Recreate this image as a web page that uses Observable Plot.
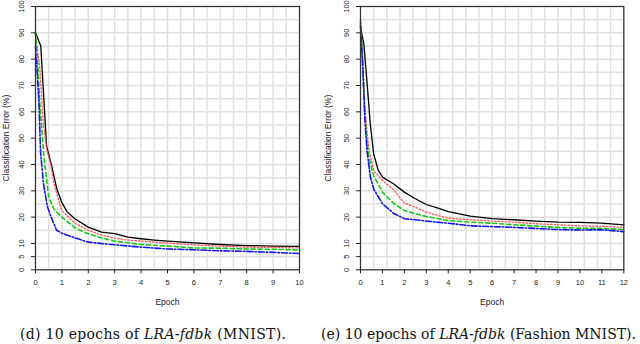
<!DOCTYPE html>
<html><head><meta charset="utf-8">
<script src="https://cdn.jsdelivr.net/npm/d3@7"></script>
<script src="https://cdn.jsdelivr.net/npm/@observablehq/plot@0.6"></script>
<style>
html,body{margin:0;padding:0;background:#fff;}
#wrap{position:relative;width:640px;height:344px;overflow:hidden;}
#left{position:absolute;left:0;top:0;}
#right{position:absolute;left:320px;top:0;}
svg{overflow:visible;}
.cap{position:absolute;top:326px;font-family:"DejaVu Serif","Liberation Serif",serif;font-size:14px;line-height:16px;color:#111;white-space:nowrap;}
</style></head>
<body><div id="wrap"><div id="left"></div><div id="right"></div>
<div class="cap" id="capL" style="left:20px;letter-spacing:0.3px;">(d) 10 epochs of <i>LRA-fdbk</i> (MNIST).</div>
<div class="cap" id="capR" style="left:321px;">(e) 10 epochs of <i>LRA-fdbk</i> (Fashion MNIST).</div>
</div>
<script>
// ---- data (epoch, classification error %) ----
const mnistBlack = [[0,90],[0.2,85],[0.42,47],[0.6,40],[0.8,31],[1.0,25.5],[1.2,22],[1.5,19.3],[2,16.2],[2.5,14.3],[3,13.7],[3.5,12.4],[4,11.8],[4.5,11.3],[5,10.9],[6,10.2],[7,9.6],[8,9.2],[9,9.0],[10,8.9]];
const mnistRed   = [[0,89],[0.16,77],[0.3,55],[0.44,45],[0.57,40.4],[0.7,32.5],[1.0,22.5],[1.5,17.6],[2,15],[2.5,13.2],[3,12],[3.5,11.3],[4,10.9],[5,10.1],[6,9.5],[7,9.0],[8,8.6],[9,8.5],[10,8.3]];
const mnistGreen = [[0,90],[0.06,83],[0.16,64],[0.32,42.8],[0.5,27.6],[0.7,23],[1.0,20],[1.5,15.9],[2,13.7],[2.5,12.1],[3,10.9],[4,9.6],[5,9.0],[6,8.3],[7,8.2],[8,7.9],[9,7.8],[10,7.5]];
const mnistBlue  = [[0,85],[0.13,64],[0.19,45],[0.3,32.8],[0.45,24],[0.57,20.6],[0.8,15],[1.0,13.9],[1.5,12.1],[2,10.5],[3,9.5],[4,8.6],[5,7.9],[6,7.6],[7,7.2],[8,7.0],[9,6.6],[10,6.2]];

const fashionBlack = [[0,92],[0.15,86],[0.3,71],[0.45,55],[0.6,44],[0.8,38],[1.0,35.2],[1.5,32.7],[2,29.5],[2.5,27],[3,24.8],[3.5,23.5],[4,22.1],[4.5,21.2],[5,20.4],[6,19.4],[7,19.0],[8,18.5],[9,18.1],[10,18.0],[11,17.7],[12,17.1]];
const fashionRed   = [[0,94],[0.1,80],[0.2,62],[0.3,52],[0.4,45],[0.6,37.7],[1.0,33.9],[1.5,30.4],[2,25.3],[2.5,23.8],[3,21.9],[4,19.6],[5,19.0],[6,18.5],[7,18.1],[8,17.5],[9,17.1],[10,16.7],[11,16.5],[12,16.1]];
const fashionGreen = [[0,95],[0.1,78],[0.2,58],[0.3,48],[0.4,42],[0.6,35.8],[1.0,29.5],[1.5,25.3],[2,22.5],[2.5,21.3],[3,20.2],[4,18.7],[5,18.1],[6,17.7],[7,17.1],[8,16.6],[9,16.1],[10,15.8],[11,15.7],[12,15.3]];
const fashionBlue  = [[0,93],[0.1,78],[0.2,57],[0.3,45],[0.45,35.2],[0.6,30.7],[1.0,25.1],[1.5,21.5],[2,19.4],[2.5,19.0],[3,18.5],[4,17.7],[5,16.7],[6,16.4],[7,16.1],[8,15.7],[9,15.3],[10,15.1],[11,15.2],[12,14.5]];

const yTickValues = [0,5,10,20,30,40,50,60,70,80,90,100];
const xTicksMnist = [0,1,2,3,4,5,6,7,8,9,10];
const xTicksFashion = [0,1,2,3,4,5,6,7,8,9,10,11,12];

// ---- styles ----
const styles = [
  {stroke:"#000000", dash:null, width:1.3},
  {stroke:"#ff5555", dash:"1.5,2", width:1.3},
  {stroke:"#11cc11", dash:"4,3", width:1.6},
  {stroke:"#1515ee", dash:"6,2,1.5,2", width:1.6}
];

function panel(series, xmax, xticks, marginLeft, marginRight, yLabelOffset){
  const gridX = d3.range(0, 21).map(i => i * xmax / 20);
  const gridY = d3.range(0, 101, 5);
  const lines = series.map((s,i) => Plot.line(s, {x: d=>d[0], y: d=>d[1], stroke: styles[i].stroke, strokeWidth: styles[i].width, strokeDasharray: styles[i].dash}));
  return Plot.plot({
    width: 320, height: 310,
    marginLeft, marginRight, marginTop: 6, marginBottom: 40.7,
    style: {fontFamily: '"Liberation Sans", Arial, sans-serif', fontSize: "7.5px", color:"#222", background:"#fff", overflow:"visible"},
    x: {domain: [0, xmax]},
    y: {domain: [0, 100]},
    marks: [
      Plot.ruleX(gridX, {stroke: "#e0e0e0", strokeWidth: 1.5}),
      Plot.ruleY(gridY, {stroke: "#e0e0e0", strokeWidth: 1.5}),
      ...lines,
      Plot.frame({stroke: "#333", strokeWidth: 1.2}),
      Plot.axisX({ticks: xticks, tickSize: 4, tickPadding: 6, label: null, tickFormat: d=>String(d)}),
      Plot.axisX({ticks: [], label: "Epoch", labelAnchor: "center", labelArrow: "none", labelOffset: 35, fontSize: 8.5}),
      Plot.axisY({ticks: yTickValues, tickSize: 4, tickPadding: 8, tickRotate: -90, label: null, tickFormat: d=>String(d)}),
      Plot.axisY({ticks: [], label: "Classification Error (%)", labelAnchor: "center", labelArrow: "none", labelOffset: yLabelOffset, fontSize: 8.5})
    ]
  });
}

document.getElementById("left").appendChild(panel([mnistBlack, mnistRed, mnistGreen, mnistBlue], 10, xTicksMnist, 35, 21, 33));
document.getElementById("right").appendChild(panel([fashionBlack, fashionRed, fashionGreen, fashionBlue], 12, xTicksFashion, 40, 16.7, 36));
</script>
</body></html>
